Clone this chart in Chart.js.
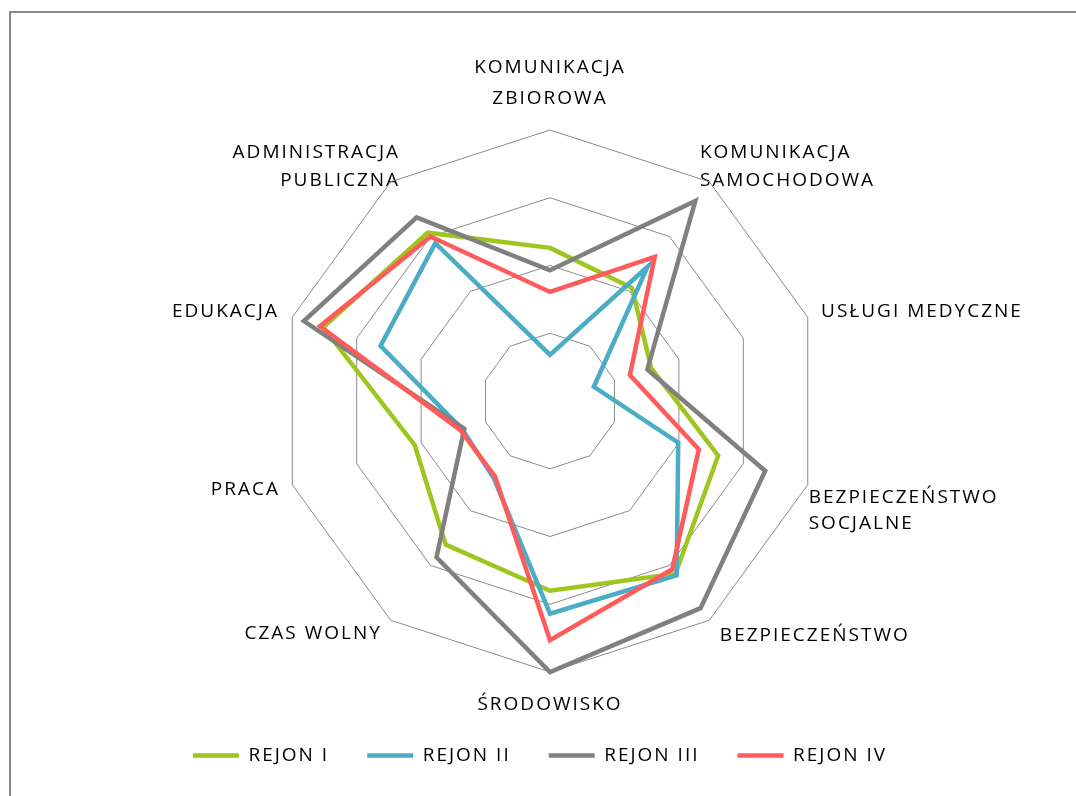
<!DOCTYPE html>
<html lang="pl">
<head>
<meta charset="utf-8">
<title>Ocena usług – rejony</title>
<script src="https://cdn.jsdelivr.net/npm/chart.js@4.4.4/dist/chart.umd.min.js"></script>
<style>
  html, body { margin: 0; padding: 0; background: #fff; overflow: hidden; }
  body { width: 1076px; height: 796px; position: relative; }
  .frame {
    position: absolute; left: 9px; top: 11px; right: -20px; bottom: -20px;
    border-top: 2px solid #878787; border-left: 2px solid #878787;
  }
  .chart-box { position: absolute; left: -30px; top: 0; width: 1160px; height: 803px; }
</style>
</head>
<body>
<div class="frame"></div>
<div class="chart-box"><canvas id="radar"></canvas></div>
<script>
const categories = [
  ['KOMUNIKACJA', 'ZBIOROWA'],
  ['KOMUNIKACJA', 'SAMOCHODOWA'],
  'USŁUGI MEDYCZNE',
  ['BEZPIECZEŃSTWO', 'SOCJALNE'],
  'BEZPIECZEŃSTWO',
  'ŚRODOWISKO',
  'CZAS WOLNY',
  'PRACA',
  'EDUKACJA',
  ['ADMINISTRACJA', 'PUBLICZNA']
];
const seriesNames = ['REJON I', 'REJON II', 'REJON III', 'REJON IV'];
const rejon1 = [2.26, 2.06, 1.57, 2.61, 3.15, 2.80, 2.62, 2.10, 3.52, 3.07];
const rejon2 = [0.68, 2.45, 0.68, 1.99, 3.18, 3.14, 1.41, 1.36, 2.63, 2.88];
const rejon3 = [1.93, 3.65, 1.51, 3.34, 3.78, 4.00, 2.85, 1.33, 3.82, 3.35];
const rejon4 = [1.61, 2.63, 1.24, 2.31, 3.07, 3.53, 1.38, 1.39, 3.57, 3.00];
const scaleTicks = [0, 1, 2, 3, 4];

// label placement tweaks (Excel centres its labels differently)
const labelPadding = [16, -16, 14, 1, 18, 17.5, 15, 13, 14, -16];
const labelLineHeight = ['31px', '28px', '2px', '26px', '2px', '31px', '2px', '2px', '2px', '28px'];

const FONT = "'Open Sans', sans-serif";
const SPACING = '2px';

const tweaks = {
  id: 'tweaks',
  beforeUpdate(chart) { chart.ctx.letterSpacing = SPACING; },
  beforeDraw(chart) { chart.ctx.letterSpacing = SPACING; },
  afterLayout(chart) {
    const lg = chart.legend;
    lg.top -= 28; lg.bottom -= 28;
    lg.left -= 10; lg.right -= 10;
  }
};

function makeSet(i, data, color, order) {
  return {
    label: seriesNames[i],
    data: data,
    borderColor: color,
    backgroundColor: color,
    borderWidth: 4.5,
    borderCapStyle: 'round',
    pointRadius: 0,
    fill: false,
    tension: 0,
    order: order
  };
}

new Chart(document.getElementById('radar'), {
  type: 'radar',
  data: {
    labels: categories,
    datasets: [
      makeSet(0, rejon1, '#9dc61e', 4),
      makeSet(1, rejon2, '#4bacc6', 3),
      makeSet(2, rejon3, '#808080', 2),
      makeSet(3, rejon4, '#ff5b5b', 1)
    ]
  },
  options: {
    responsive: true,
    maintainAspectRatio: false,
    animation: false,
    layout: { padding: { top: 38, bottom: 0, left: 0, right: 0 } },
    plugins: {
      tooltip: { enabled: false },
      legend: {
        position: 'bottom',
        labels: {
          usePointStyle: true,
          pointStyle: 'line',
          pointStyleWidth: 46,
          padding: 38,
          color: '#000',
          font: { family: FONT, size: 19 },
          sort: (a, b) => a.datasetIndex - b.datasetIndex
        }
      }
    },
    scales: {
      r: {
        min: scaleTicks[0],
        max: scaleTicks[scaleTicks.length - 1],
        ticks: { display: false, stepSize: 1 },
        grid: { color: '#8a8a8a', lineWidth: 1 },
        angleLines: { display: false },
        pointLabels: {
          color: '#000',
          padding: (c) => labelPadding[c.index],
          font: (c) => ({ family: FONT, size: 19, lineHeight: labelLineHeight[c.index] })
        }
      }
    }
  },
  plugins: [tweaks]
});
</script>
</body>
</html>
